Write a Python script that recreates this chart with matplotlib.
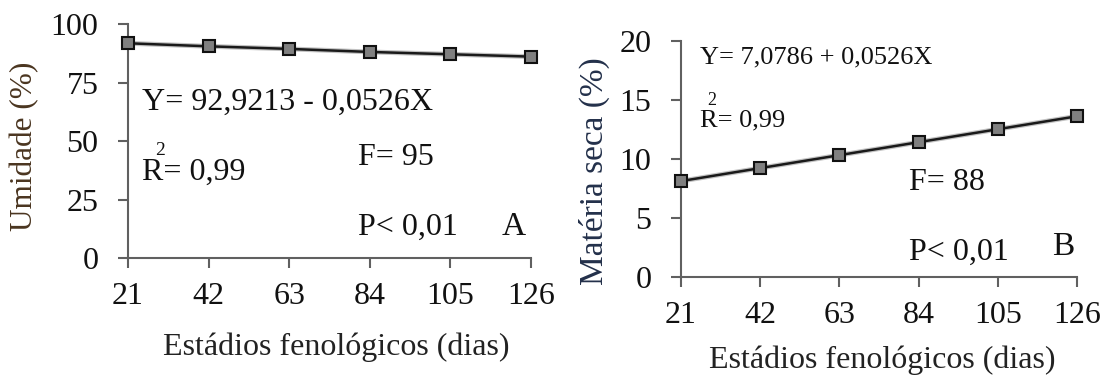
import matplotlib
matplotlib.use('Agg')
import matplotlib.pyplot as plt

plt.rcParams['font.family'] = ['Liberation Serif', 'DejaVu Serif']

# data
dias = [21, 42, 63, 84, 105, 126]
umidade = [91.8, 90.5, 89.4, 88.1, 87.1, 86.1]
materia_seca = [8.1, 9.2, 10.3, 11.4, 12.5, 13.6]

umid_ticks = [0, 25, 50, 75, 100]
ms_ticks = [0, 5, 10, 15, 20]

spine_col = '#606060'

fig = plt.figure(figsize=(11.08, 3.76), dpi=100)
axA = fig.add_axes([0.1155, 0.313, 0.3637, 0.623])
axB = fig.add_axes([0.6144, 0.2641, 0.3579, 0.6277])


def style(ax, yticks):
    ax.set_xlim(dias[0], dias[-1])
    ax.set_ylim(yticks[0], yticks[-1])
    ax.set_xticks(dias)
    ax.set_yticks(yticks)
    for s in ['top', 'right']:
        ax.spines[s].set_visible(False)
    for s in ['left', 'bottom']:
        ax.spines[s].set_color(spine_col)
        ax.spines[s].set_linewidth(1.5)
    ax.tick_params(axis='both', direction='out', length=7.2, width=1.5,
                   color=spine_col, labelsize=23, labelcolor='#111111')
    ax.tick_params(axis='x', pad=10)
    ax.tick_params(axis='y', pad=14)


for ax, vals, yt in [(axA, umidade, umid_ticks), (axB, materia_seca, ms_ticks)]:
    style(ax, yt)
    ax.plot(dias, vals, color='#999999', lw=3.5, alpha=0.6, clip_on=False, zorder=2)
    ax.plot(dias, vals, color='#1a1a1a', lw=1.8, clip_on=False, zorder=3)
    ax.plot(dias, vals, ls='none', marker='s', ms=9, mfc='#808080', mec='#111111',
            mew=1.5, clip_on=False, zorder=4)

txt = '#111111'
# panel A annotations
axA.text(24.6, 63.6, 'Y= 92,9213 - 0,0526X', fontsize=23, color=txt)
axA.text(24.6, 33.4, 'R= 0,99', fontsize=23, color=txt)
axA.text(29.3, 46.2, '2', fontsize=14, va='center', ha='center', color=txt)
axA.text(81.0, 39.8, 'F= 95', fontsize=23, color=txt)
axA.text(81.0, 9.9, 'P< 0,01', fontsize=23, color=txt)
axA.text(118.4, 9.9, 'A', fontsize=24, color=txt)

# panel B annotations
axB.text(26.1, 18.03, 'Y= 7,0786 + 0,0526X', fontsize=19, color=txt)
axB.text(26.1, 12.71, 'R= 0,99', fontsize=19, color=txt)
axB.text(29.2, 14.97, '2', fontsize=13, va='center', ha='center', color=txt)
axB.text(81.5, 7.35, 'F= 88', fontsize=23, color=txt)
axB.text(81.5, 1.42, 'P< 0,01', fontsize=23, color=txt)
axB.text(119.2, 1.84, 'B', fontsize=24, color=txt)

# axis labels
fig.text(0.3037, 0.0559, 'Estádios fenológicos (dias)', fontsize=23,
         ha='center', va='baseline', color='#222222')
fig.text(0.796, 0.02, 'Estádios fenológicos (dias)', fontsize=23,
         ha='center', va='baseline', color='#222222')
fig.text(0.0226, 0.612, 'Umidade (%)', fontsize=22.5, rotation=90,
         ha='center', va='center', color='#4a3520')
fig.text(0.536, 0.544, 'Matéria seca (%)', fontsize=24, rotation=90,
         ha='center', va='center', color='#23304a')

fig.savefig('out.png', dpi=100)
